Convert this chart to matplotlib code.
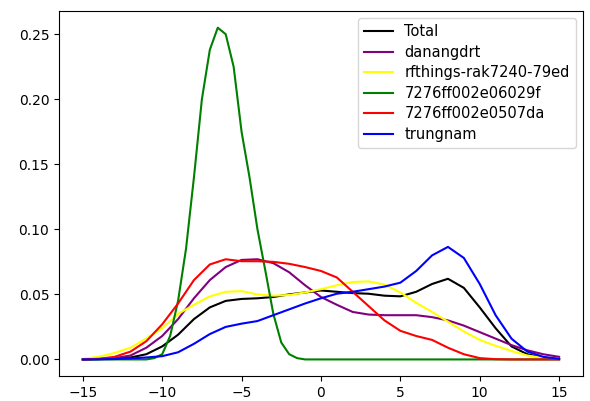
import matplotlib
matplotlib.use("Agg")
import matplotlib.pyplot as plt

# values, one per unit from -15 to 15
x = list(range(-15, 16))

total = [0.0, 0.0002, 0.0006, 0.0015, 0.004, 0.010, 0.019, 0.031, 0.040, 0.045,
         0.0465, 0.047, 0.048, 0.050, 0.0515, 0.053, 0.052, 0.051, 0.0505, 0.049,
         0.0485, 0.052, 0.058, 0.062, 0.055, 0.040, 0.024, 0.010, 0.004, 0.0012, 0.0003]

danangdrt = [0.0, 0.0003, 0.001, 0.003, 0.009, 0.018, 0.031, 0.047, 0.061, 0.071,
             0.0765, 0.077, 0.074, 0.067, 0.057, 0.048, 0.042, 0.0365, 0.0345, 0.034,
             0.034, 0.034, 0.0325, 0.030, 0.026, 0.021, 0.016, 0.011, 0.007, 0.004, 0.002]

rfthings = [0.0005, 0.002, 0.005, 0.009, 0.016, 0.024, 0.035, 0.042, 0.0485, 0.052,
            0.0525, 0.050, 0.049, 0.0495, 0.0515, 0.054, 0.057, 0.0595, 0.060, 0.0575,
            0.0515, 0.0435, 0.0365, 0.029, 0.0215, 0.015, 0.0105, 0.0065, 0.003, 0.0012, 0.0004]

gw_0507da = [0.0, 0.0005, 0.002, 0.006, 0.014, 0.027, 0.043, 0.061, 0.073, 0.077,
             0.0755, 0.0755, 0.075, 0.0735, 0.071, 0.068, 0.063, 0.052, 0.041, 0.030,
             0.022, 0.018, 0.015, 0.009, 0.004, 0.001, 0.0002, 0.0, 0.0, 0.0, 0.0]

trungnam = [0.0, 0.0001, 0.0003, 0.0008, 0.0015, 0.0025, 0.0055, 0.012, 0.0195, 0.025,
            0.0275, 0.0295, 0.034, 0.0385, 0.043, 0.047, 0.0505, 0.052, 0.054, 0.056,
            0.059, 0.068, 0.080, 0.0865, 0.078, 0.058, 0.034, 0.016, 0.006, 0.002, 0.0005]

# the narrow green peak needs a finer step
x_green = [-15, -13, -11, -10.5, -10, -9.5, -9, -8.5, -8, -7.5, -7, -6.5, -6, -5.5,
           -5, -4.5, -4, -3.5, -3, -2.5, -2, -1.5, -1, 0, 5, 10, 15]
gw_06029f = [0.0, 0.0, 0.0, 0.001, 0.004, 0.018, 0.045, 0.085, 0.14, 0.2, 0.238, 0.255,
             0.25, 0.225, 0.175, 0.14, 0.10, 0.068, 0.035, 0.013, 0.004, 0.001, 0.0,
             0.0, 0.0, 0.0, 0.0]

fig = plt.figure(figsize=(5.9, 4.01), dpi=100)
ax = fig.add_axes([0.100, 0.0623, 0.888, 0.910])

ax.plot(x, total, color='black', label='Total')
ax.plot(x, danangdrt, color='purple', label='danangdrt')
ax.plot(x, rfthings, color='yellow', label='rfthings-rak7240-79ed')
ax.plot(x_green, gw_06029f, color='green', label='7276ff002e06029f')
ax.plot(x, gw_0507da, color='red', label='7276ff002e0507da')
ax.plot(x, trungnam, color='blue', label='trungnam')

ax.set_xticks([-15, -10, -5, 0, 5, 10, 15])
ax.legend(loc='upper right', fontsize=10.5, labelspacing=0.38)

fig.savefig('out.png', dpi=100)
